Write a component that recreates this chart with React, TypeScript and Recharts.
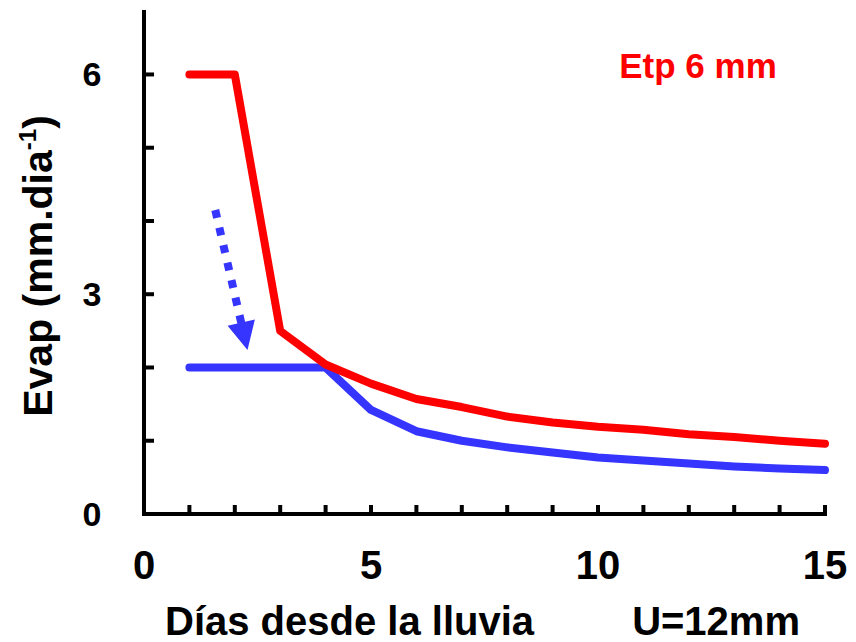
import { LineChart, Line, XAxis, YAxis, ReferenceLine, Label } from 'recharts'

// días desde la lluvia
const days = [1, 2, 3, 4, 5, 6, 7, 8, 9, 10, 11, 12, 13, 14, 15]
// Etp 6 mm (rojo)
const evapEtp6 = [6, 6, 2.5, 2.04, 1.78, 1.57, 1.46, 1.33, 1.25, 1.19, 1.15, 1.09, 1.05, 1.0, 0.96]
// curva azul
const evapBlue = [2, 2, 2, 2, 1.42, 1.13, 1.0, 0.91, 0.84, 0.77, 0.73, 0.69, 0.65, 0.62, 0.6]

const xTicks = [0, 1, 2, 3, 4, 5, 6, 7, 8, 9, 10, 11, 12, 13, 14, 15]
const xLabels = [0, 5, 10, 15]
const yTicks = [0, 1, 2, 3, 4, 5, 6]
const yLabels = [0, 3, 6]

// flecha punteada (coordenadas en unidades de datos)
const arrowSegment = [
  { x: 1.57, y: 4.15 },
  { x: 2.28, y: 2.24 },
]

const data = days.map((d, i) => ({ day: d, red: evapEtp6[i], blue: evapBlue[i] }))

const FONT = '"Liberation Sans", Arial, sans-serif'
const BLUE = '#3535ff'
const RED = '#ff0000'

function XTick(props: any) {
  const { x, y, payload } = props
  const v = payload.value
  return (
    <g>
      <line x1={x} x2={x} y1={y} y2={y - 11} stroke="#000" strokeWidth={4} />
      {xLabels.includes(v) && (
        <text x={x} y={y + 63} textAnchor="middle" fontSize={40} fontWeight="bold" fontFamily={FONT} fill="#000">
          {v}
        </text>
      )}
    </g>
  )
}

function YTick(props: any) {
  const { x, y, payload } = props
  const v = payload.value
  return (
    <g>
      <line x1={x} x2={x + 12} y1={y} y2={y} stroke="#000" strokeWidth={4} />
      {yLabels.includes(v) && (
        <text x={x - 50} y={y + 12} textAnchor="middle" fontSize={34} fontWeight="bold" fontFamily={FONT} fill="#000">
          {v}
        </text>
      )}
    </g>
  )
}

function Arrow(props: any) {
  const { x1, y1, x2, y2 } = props
  const dx = x2 - x1
  const dy = y2 - y1
  const len = Math.sqrt(dx * dx + dy * dy)
  const ux = dx / len
  const uy = dy / len
  const head = 28
  const half = 14
  const bx = x2 - ux * head
  const by = y2 - uy * head
  return (
    <g>
      <line x1={x1} y1={y1} x2={bx + ux * 4} y2={by + uy * 4} stroke={BLUE} strokeWidth={8} strokeDasharray="8 10" />
      <polygon
        points={`${x2},${y2} ${bx - uy * half},${by + ux * half} ${bx + uy * half},${by - ux * half}`}
        fill={BLUE}
      />
    </g>
  )
}

export default function App() {
  return (
    <div style={{ position: 'absolute', left: 0, top: 0, width: 856, height: 642, background: '#fff' }}>
      <LineChart width={856} height={642} data={data} margin={{ top: 10, right: 31, bottom: 0, left: 0 }}>
        <XAxis
          dataKey="day"
          type="number"
          domain={[0, 15]}
          ticks={xTicks}
          interval={0}
          height={128}
          tickSize={0}
          tickLine={false}
          tick={<XTick />}
          axisLine={{ stroke: '#000', strokeWidth: 4 }}
        >
          <Label
            content={(p: any) => {
              const vb = p.viewBox
              return (
                <g fontFamily={FONT} fontWeight="bold" fontSize={40} fill="#000">
                  <text x={vb.x + 21} y={vb.y + 121}>Días desde la lluvia</text>
                  <text x={vb.x + vb.width - 25} y={vb.y + 121} textAnchor="end">U=12mm</text>
                </g>
              )
            }}
          />
        </XAxis>
        <YAxis
          type="number"
          domain={[0, 6.88]}
          ticks={yTicks}
          interval={0}
          width={144}
          tickSize={0}
          tickLine={false}
          tick={<YTick />}
          axisLine={{ stroke: '#000', strokeWidth: 4 }}
        >
          <Label
            content={(p: any) => {
              const vb = p.viewBox
              const cx = 52
              const cy = vb.y + vb.height / 2 + 4
              return (
                <text
                  x={cx}
                  y={cy}
                  textAnchor="middle"
                  transform={`rotate(-90, ${cx}, ${cy})`}
                  fontFamily={FONT}
                  fontWeight="bold"
                  fontSize={41}
                  fill="#000"
                >
                  <tspan>Evap (mm.dia</tspan>
                  <tspan fontSize={24} dy={-16}>-1</tspan>
                  <tspan dy={16}>)</tspan>
                </text>
              )
            }}
          />
        </YAxis>
        <Line
          dataKey="blue"
          stroke={BLUE}
          strokeWidth={8}
          dot={false}
          activeDot={false}
          strokeLinejoin="round"
          strokeLinecap="round"
          isAnimationActive={false}
        />
        <Line
          dataKey="red"
          stroke={RED}
          strokeWidth={8}
          dot={false}
          activeDot={false}
          strokeLinejoin="round"
          strokeLinecap="round"
          isAnimationActive={false}
        />
        <ReferenceLine segment={arrowSegment} shape={<Arrow />} ifOverflow="visible" />
        <text x={698} y={78} textAnchor="middle" fontFamily={FONT} fontWeight="bold" fontSize={35} fill={RED}>
          Etp 6 mm
        </text>
      </LineChart>
    </div>
  )
}
